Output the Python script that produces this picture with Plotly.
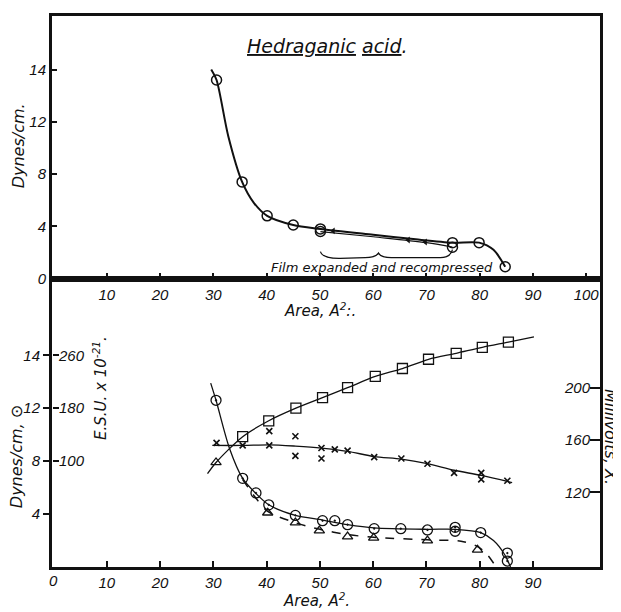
import plotly.graph_objects as go

# ---------------- data ----------------
# Top panel: Hedraganic acid, surface pressure (Dynes/cm) vs Area
top_area = [30.6, 35.4, 40.1, 45.0, 50.1, 50.1, 74.9, 74.9, 79.9, 84.8]
top_dynes = [15.2, 7.4, 4.8, 4.1, 3.8, 3.6, 2.75, 2.4, 2.75, 0.9]
top_curve_area = [29.6, 30.6, 32.8, 35.4, 37.6, 40.1, 45.0, 50.1, 60.0, 68.0, 74.9, 79.9, 82.6, 84.8]
top_curve_dynes = [16.0, 15.2, 10.9, 7.4, 5.8, 4.8, 4.1, 3.8, 3.35, 3.0, 2.75, 2.75, 2.2, 0.9]
recomp_area = [50.1, 60.0, 70.0, 74.9]
recomp_dynes = [3.6, 3.2, 2.75, 2.4]
arrow_area = [52.5, 66.6, 69.8]
arrow_dynes = [3.65, 2.95, 2.8]

# Bottom panel: Dynes/cm (circles, solid)
circ_area = [30.5, 35.5, 38.0, 40.4, 45.4, 50.5, 52.8, 55.2, 60.2, 65.2, 70.2, 75.4, 75.4, 80.2, 85.2, 85.2]
circ_dynes = [12.6, 6.7, 5.6, 4.7, 3.9, 3.5, 3.5, 3.2, 2.9, 2.9, 2.8, 3.0, 2.7, 2.6, 1.05, 0.45]
circ_curve_area = [29.5, 30.5, 33.0, 35.5, 38.0, 40.4, 45.4, 50.5, 55.2, 60.2, 70.2, 75.4, 80.2, 82.6, 84.6, 85.8]
circ_curve_dynes = [13.9, 12.6, 9.0, 6.7, 5.55, 4.7, 3.9, 3.55, 3.2, 2.95, 2.85, 2.85, 2.6, 2.0, 1.0, 0.0]

# Bottom panel: Dynes/cm (triangles, dashed)
tri_area = [30.5, 40.2, 45.4, 49.9, 55.2, 60.1, 70.2, 79.6]
tri_dynes = [7.9, 4.1, 3.35, 2.75, 2.3, 2.2, 2.0, 1.3]
dash_area = [35.5, 38.0, 40.2, 45.4, 50.0, 55.2, 60.1, 70.2, 76.5, 79.6, 81.5, 83.1]
dash_dynes = [6.6, 5.2, 4.2, 3.35, 2.85, 2.45, 2.25, 2.05, 1.95, 1.55, 0.9, 0.0]

# Bottom panel: E.S.U. x 10^-21 (squares)
esu_area = [35.5, 40.4, 45.5, 50.5, 55.2, 60.4, 65.5, 70.4, 75.6, 80.5, 85.4]
esu_values = [137, 161, 180, 196, 211, 228, 240, 254, 263, 272, 280]
esu_curve_area = [28.9, 30.5, 35.5, 40.4, 45.5, 50.5, 55.2, 60.4, 65.5, 70.4, 75.6, 80.5, 85.4, 90.2]
esu_curve_values = [81, 98, 137, 161, 180, 196, 211, 228, 240, 254, 263, 272, 280, 288]

# Bottom panel: Millivolts (crosses)
mv_area = [30.6, 35.5, 40.5, 40.5, 45.4, 45.4, 50.3, 50.3, 52.8, 55.2, 60.2, 65.3, 70.2, 75.2, 80.3, 80.3, 85.2]
mv_values = [158, 156, 156, 167, 163, 148, 154, 146, 153, 152, 147, 146, 142, 135, 135, 130, 129]
mv_curve_area = [29.8, 35.5, 40.5, 45.4, 50.3, 55.2, 60.2, 65.3, 70.2, 75.2, 80.3, 86.1]
mv_curve_values = [156, 156, 156.5, 155.5, 154, 151.5, 147.5, 145.5, 142, 137, 133, 127.6]

# Tick labels
x_ticks = [0, 10, 20, 30, 40, 50, 60, 70, 80, 90, 100]
top_y_tickvals = [0, 4, 8, 12, 16]
top_y_ticktext = ["0", "4", "8", "12", "14"]
bot_y_tickvals = [4, 8, 12, 16]
bot_y_ticktext = ["4", "8", "12", "14"]
esu_ticks = [100, 180, 260]
mv_ticks = [120, 160, 200]

# ---------------- figure ----------------
TICKFONT = "Liberation Sans Narrow, Liberation Sans, sans-serif"
TEXTFONT = "DejaVu Sans, sans-serif"
INK = "#111111"
tfnt = dict(family=TICKFONT, size=15, color=INK, style="italic")


def txt(size):
    return dict(family=TEXTFONT, size=size, color=INK, style="italic")


fig = go.Figure()

# top panel
fig.add_trace(go.Scatter(x=top_curve_area, y=top_curve_dynes, mode="lines",
                         line=dict(color=INK, width=2, shape="spline", smoothing=0.8),
                         xaxis="x", yaxis="y", hoverinfo="skip"))
fig.add_trace(go.Scatter(x=recomp_area, y=recomp_dynes, mode="lines",
                         line=dict(color=INK, width=1.2, shape="spline"),
                         xaxis="x", yaxis="y", hoverinfo="skip"))
fig.add_trace(go.Scatter(x=arrow_area, y=arrow_dynes, mode="markers",
                         marker=dict(symbol="triangle-left", size=6, color=INK),
                         xaxis="x", yaxis="y"))
fig.add_trace(go.Scatter(x=top_area, y=top_dynes, mode="markers",
                         marker=dict(symbol="circle-open", size=10, color=INK, line=dict(width=1.5)),
                         xaxis="x", yaxis="y"))

# bottom panel
fig.add_trace(go.Scatter(x=circ_curve_area, y=circ_curve_dynes, mode="lines",
                         line=dict(color=INK, width=1.3, shape="spline", smoothing=0.8),
                         xaxis="x2", yaxis="y2", hoverinfo="skip"))
fig.add_trace(go.Scatter(x=dash_area, y=dash_dynes, mode="lines",
                         line=dict(color=INK, width=1.5, shape="spline", dash="dash", smoothing=0.8),
                         xaxis="x2", yaxis="y2", hoverinfo="skip"))
fig.add_trace(go.Scatter(x=circ_area, y=circ_dynes, mode="markers",
                         marker=dict(symbol="circle-open-dot", size=10, color=INK, line=dict(width=1.3)),
                         xaxis="x2", yaxis="y2"))
fig.add_trace(go.Scatter(x=tri_area, y=tri_dynes, mode="markers",
                         marker=dict(symbol="triangle-up-open", size=9, color=INK, line=dict(width=1.3)),
                         xaxis="x2", yaxis="y2"))
fig.add_trace(go.Scatter(x=esu_curve_area, y=esu_curve_values, mode="lines",
                         line=dict(color=INK, width=1.3, shape="spline", smoothing=0.8),
                         xaxis="x2", yaxis="y4", hoverinfo="skip"))
fig.add_trace(go.Scatter(x=esu_area, y=esu_values, mode="markers",
                         marker=dict(symbol="square-open", size=10, color=INK, line=dict(width=1.3)),
                         xaxis="x2", yaxis="y4"))
fig.add_trace(go.Scatter(x=mv_curve_area, y=mv_curve_values, mode="lines",
                         line=dict(color=INK, width=1.3, shape="spline", smoothing=0.8),
                         xaxis="x2", yaxis="y3", hoverinfo="skip"))
fig.add_trace(go.Scatter(x=mv_area, y=mv_values, mode="markers",
                         marker=dict(symbol="x-thin-open", size=6, color=INK, line=dict(width=1.6, color=INK)),
                         xaxis="x2", yaxis="y3"))

SPLIT = 0.5235
XR = [-0.3, 102.6]
axis_common = dict(showgrid=False, zeroline=False, showline=True, linecolor=INK,
                   linewidth=3, tickfont=tfnt, tickcolor=INK)

# page body has an 8px default margin, so the figure is offset by 8px
fig.update_layout(
    width=613, height=604,
    margin=dict(l=44, r=21, t=5, b=45),
    paper_bgcolor="white", plot_bgcolor="white",
    showlegend=False,
    xaxis=dict(domain=[0, 1], range=XR, anchor="y", mirror=True, ticks="inside",
               ticklen=6, tickwidth=1.5, tickvals=x_ticks[1:],
               ticktext=[str(v) for v in x_ticks[1:]], **axis_common),
    yaxis=dict(domain=[SPLIT, 1], range=[0, 20.1], anchor="x", mirror=True,
               ticks="inside", ticklen=5, tickwidth=1.5,
               tickvals=top_y_tickvals, ticktext=top_y_ticktext, **axis_common),
    xaxis2=dict(domain=[0, 1], range=XR, anchor="y2", mirror=True, ticks="inside",
                ticklen=6, tickwidth=1.5, tickvals=x_ticks[1:],
                ticktext=[str(v) for v in x_ticks[1:]], **axis_common),
    yaxis2=dict(domain=[0, SPLIT], range=[0, 21.8], anchor="x2", mirror=True,
                ticks="outside", ticklen=6, tickwidth=1.5,
                tickvals=bot_y_tickvals, ticktext=bot_y_ticktext, **axis_common),
    yaxis3=dict(overlaying="y2", side="right", anchor="free", position=1.0,
                range=[62.9, 283.8],
                showgrid=False, zeroline=False, showline=False,
                ticks="inside", ticklen=10, tickwidth=1.5, tickcolor=INK,
                ticklabelposition="inside", tickvals=mv_ticks, tickfont=tfnt),
    yaxis4=dict(overlaying="y2", side="left", anchor="free", position=0.0,
                range=[-60, 376],
                showgrid=False, zeroline=False, showline=False,
                ticks="inside", ticklen=6, tickwidth=1.5, tickcolor=INK,
                ticklabelposition="inside", tickvals=esu_ticks, tickfont=tfnt),
)

# the "0" label of the lower area axis (plotly suppresses it at the corner)
fig.add_annotation(text=str(x_ticks[0]), x=x_ticks[0], xref="x2", y=-0.024, yref="paper",
                   showarrow=False, xanchor="center", yanchor="middle", font=tfnt)

ann = dict(showarrow=False, xref="paper", yref="paper", xanchor="center", yanchor="middle")
fig.add_annotation(text="<u>Hedraganic</u> <u>acid</u>.", x=0.502, y=0.946, font=txt(19), **ann)
fig.add_annotation(text="Film expanded and recompressed", x=0.602, y=0.543, font=txt(13), **ann)
fig.add_annotation(text="Area, A<sup>2</sup>:.", x=0.489, y=0.466, font=txt(15), **ann)
fig.add_annotation(text="Area, A<sup>2</sup>.", x=0.482, y=-0.060, font=txt(15), **ann)
fig.add_annotation(text="Dynes/cm.", x=-0.062, y=0.7635, textangle=-90, font=txt(16), **ann)
fig.add_annotation(text="Dynes/cm, ⊙", x=-0.065, y=0.2, textangle=-90, font=txt(16), **ann)
fig.add_annotation(text="E.S.U. x 10<sup>-21</sup>.", x=0.0876, y=0.325, textangle=-90, font=txt(15), **ann)
fig.add_annotation(text="Millivolts, X.", x=1.0182, y=0.236, textangle=90, font=txt(16), **ann)

# brace under the expanded/recompressed section
fig.add_shape(type="path", xref="x", yref="y",
              path="M 50.1,2.06 Q 50.5,1.53 53.8,1.55 L 58.5,1.6 Q 60.4,1.6 61.0,1.95 "
                   "Q 61.5,1.6 63.4,1.6 L 72.6,1.6 Q 74.5,1.6 74.9,2.21",
              line=dict(color=INK, width=1.3))

fig.write_html("out.html")
